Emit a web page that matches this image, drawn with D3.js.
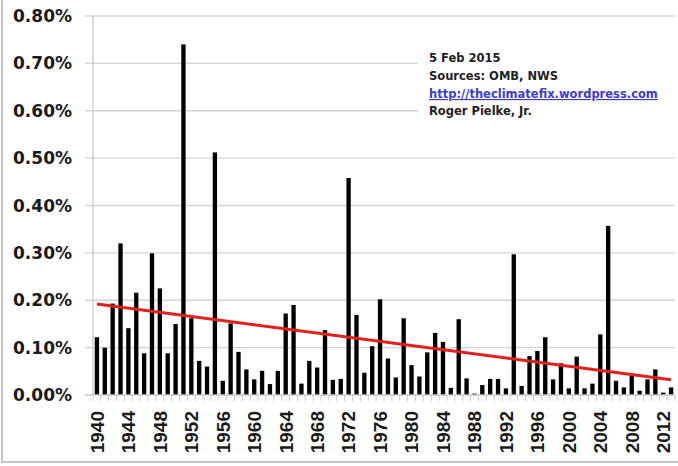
<!DOCTYPE html>
<html><head><meta charset="utf-8">
<script src="https://cdn.jsdelivr.net/npm/d3@7"></script>
<style>body{margin:0;background:#fff}svg{display:block}</style>
</head><body>
<svg id="c" width="678" height="466"></svg>
<script>
const years = d3.range(1940, 2014);
const values = [
  0.122, 0.100, 0.193, 0.320, 0.141, 0.216, 0.088, 0.299, 0.225, 0.088,
  0.150, 0.740, 0.162, 0.072, 0.060, 0.512, 0.030, 0.151, 0.091, 0.054,
  0.033, 0.051, 0.023, 0.051, 0.172, 0.190, 0.024, 0.072, 0.058, 0.137,
  0.032, 0.034, 0.458, 0.169, 0.047, 0.103, 0.202, 0.077, 0.037, 0.162,
  0.063, 0.039, 0.090, 0.131, 0.112, 0.015, 0.160, 0.035, 0.003, 0.021,
  0.034, 0.034, 0.014, 0.297, 0.019, 0.082, 0.093, 0.122, 0.033, 0.067,
  0.014, 0.081, 0.014, 0.024, 0.128, 0.357, 0.030, 0.016, 0.040, 0.009,
  0.033, 0.054, 0.005, 0.016
];
const trendYears = [1940, 2013];
const trendValues = [0.192, 0.032];
const yTicks = [0, 0.1, 0.2, 0.3, 0.4, 0.5, 0.6, 0.7, 0.8];
const xTickYears = d3.range(1940, 2013, 4);
const notes = ["5 Feb 2015", "Sources: OMB, NWS", "http://theclimatefix.wordpress.com", "Roger Pielke, Jr."];

const svg = d3.select("#c");
const L = 93, R = 675, T = 16, B = 395;

const x = d3.scaleBand().domain(years).range([L, R]).paddingInner(0.45).paddingOuter(0.225);
const y = d3.scaleLinear().domain([0, 0.8]).range([B, T]);

// frame
svg.append("rect").attr("x", 2).attr("y", -10).attr("width", 700).attr("height", 472)
  .attr("fill", "none").attr("stroke", "#c4c4c4").attr("stroke-width", 2);

// gridlines
svg.append("g").selectAll("line").data(yTicks.slice(1)).join("line")
  .attr("x1", L - 8).attr("x2", R).attr("y1", d => y(d)).attr("y2", d => y(d))
  .attr("stroke", "#d4d4d4").attr("stroke-width", 1.3);

// annotation background
svg.append("rect").attr("x", 418).attr("y", 28).attr("width", 262).attr("height", 104).attr("fill", "#fff");

// y axis line
svg.append("line").attr("x1", L).attr("x2", L).attr("y1", T).attr("y2", B)
  .attr("stroke", "#c8c8c8").attr("stroke-width", 1.3);

// y labels
svg.append("g").selectAll("text").data(yTicks).join("text")
  .attr("x", 72).attr("y", d => y(d)).attr("dy", "0.36em").attr("text-anchor", "end")
  .attr("font-family", "DejaVu Sans").attr("font-weight", "bold").attr("font-size", 17)
  .attr("fill", "#1a1a1a").text(d => d3.format(".2f")(d) + "%");

// x ticks at category boundaries
const step = x.step();
svg.append("g").selectAll("line").data(d3.range(years.length + 1)).join("line")
  .attr("x1", i => L + i * step).attr("x2", i => L + i * step)
  .attr("y1", B).attr("y2", B + 6).attr("stroke", "#c8c8c8").attr("stroke-width", 1);

// bars
svg.append("g").selectAll("rect").data(years).join("rect")
  .attr("x", d => x(d)).attr("width", x.bandwidth())
  .attr("y", (d, i) => y(values[i])).attr("height", (d, i) => B - y(values[i]))
  .attr("fill", "#000");

// zero axis line
svg.append("line").attr("x1", L - 8).attr("x2", R).attr("y1", B).attr("y2", B)
  .attr("stroke", "#c8c8c8").attr("stroke-width", 1.3);

// trend line
svg.append("line")
  .attr("x1", x(trendYears[0]) + x.bandwidth() / 2).attr("y1", y(trendValues[0]))
  .attr("x2", x(trendYears[1]) + x.bandwidth() / 2).attr("y2", y(trendValues[1]))
  .attr("stroke", "#e3201b").attr("stroke-width", 3);

// x labels
svg.append("g").selectAll("text").data(xTickYears).join("text")
  .attr("transform", d => `translate(${x(d) + x.bandwidth() / 2},411) rotate(-90)`)
  .attr("dy", "0.36em").attr("text-anchor", "end")
  .attr("font-family", "Liberation Sans").attr("font-weight", "bold").attr("font-size", 19)
  .attr("fill", "#1a1a1a").text(d => d);

// annotation
const ny = [62, 80, 98, 115];
svg.append("g").selectAll("text").data(notes).join("text")
  .attr("x", 429).attr("y", (d, i) => ny[i])
  .attr("font-family", "DejaVu Sans").attr("font-weight", "bold").attr("font-size", 11.5)
  .attr("fill", (d, i) => i === 2 ? "#3b3bd0" : "#222")
  .attr("text-decoration", (d, i) => i === 2 ? "underline" : null)
  .text(d => d);
</script>
</body></html>
